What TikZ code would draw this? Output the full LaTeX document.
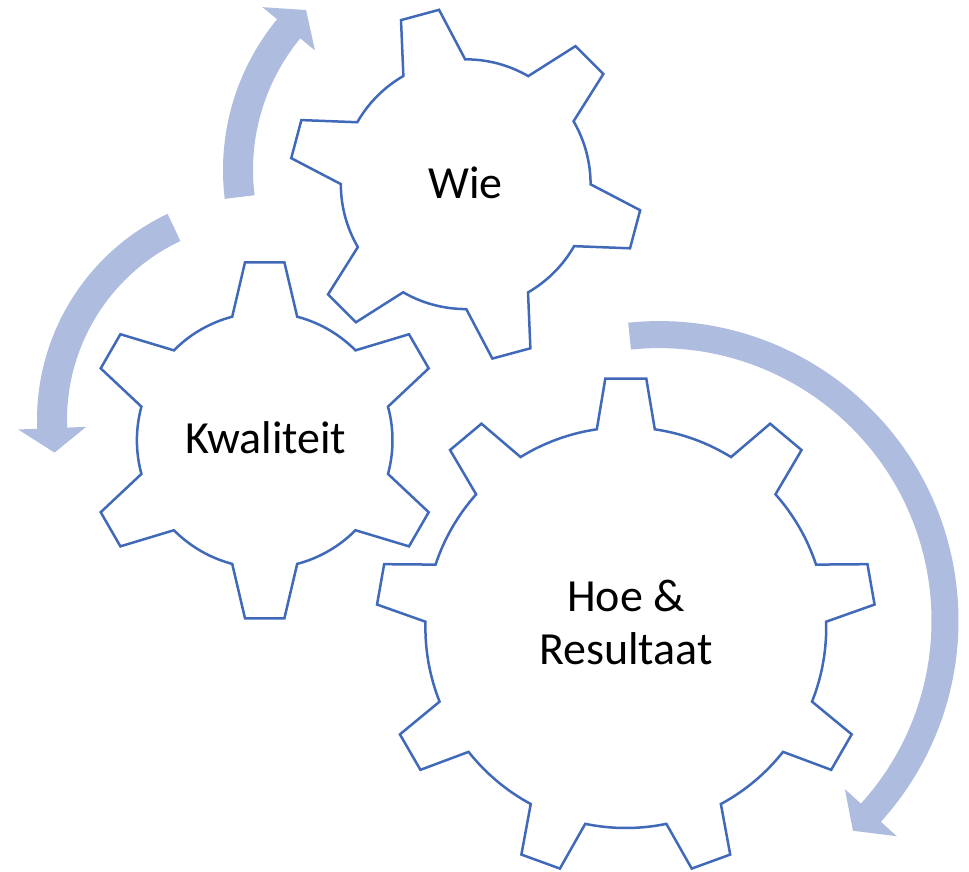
\documentclass[tikz,border=0pt]{standalone}
\usepackage{fontspec}
\setmainfont{Carlito}
\definecolor{gearline}{HTML}{4169B9}
\definecolor{arrowfill}{HTML}{AEBCDF}
\tikzset{
  gearshape/.style={draw=gearline, line width=2.5pt, fill=white, line join=miter},
  arrowshape/.style={fill=arrowfill, draw=none},
  geartext/.style={font=\fontsize{46}{53.3}\selectfont, text=black, align=center, inner sep=0pt},
}
% cx cy n rot Ro Rr wo wr
\newcommand\gearpath[8]{%
  \pgfmathsetmacro\gRb{100*veclen((#6)/100,(#8)/100)}%
  \pgfmathsetmacro\gdb{atan((#8)/(#6))}%
  \pgfmathsetmacro\gRt{100*veclen((#5)/100,(#7)/100)}%
  \pgfmathsetmacro\gdt{atan((#7)/(#5))}%
  \pgfmathsetmacro\gst{360/(#3)}%
  \pgfmathtruncatemacro\gnm{(#3)-1}%
  \filldraw[gearshape, shift={(#1,#2)}] ({#4-\gdb}:\gRb pt)
    \foreach \k in {0,...,\gnm} {
      -- ({#4+\k*\gst-\gdt}:\gRt pt) -- ({#4+\k*\gst+\gdt}:\gRt pt) -- ({#4+\k*\gst+\gdb}:\gRb pt)
      arc[start angle={#4+\k*\gst+\gdb}, end angle={#4+(\k+1)*\gst-\gdb}, radius=\gRb pt]
    } -- cycle;
}
% cx cy r h a0 a1 a2 s
\newcommand\circarrow[8]{%
  \fill[arrowshape, shift={(#1,#2)}] (#5:{#3pt+#4pt})
    arc[start angle=#5, end angle=#6, radius={#3pt+#4pt}]
    -- (#6:{#3pt+#8pt}) -- (#7:#3pt) -- (#6:{#3pt-#8pt}) -- (#6:{#3pt-#4pt})
    arc[start angle=#6, end angle=#5, radius={#3pt-#4pt}] -- cycle;
}
\begin{document}
\begin{tikzpicture}[x=1pt,y=1pt]
\useasboundingbox (0,0) rectangle (969,871);
% circular arrows
\circarrow{659}{250.4}{286}{13.5}{95.9}{-42.2}{-47.3}{35}
\circarrow{265}{451}{213}{15}{115.3}{182.2}{188.8}{34}
\circarrow{460}{701}{222}{15}{187}{140.5}{133.9}{34}
% gears
\gearpath{625.8}{243.4}{9}{90}{249}{198.3}{20.5}{29}
\gearpath{264.7}{430.7}{6}{90}{178}{123.6}{19.7}{32.5}
\gearpath{465.7}{686.8}{6}{105.1}{175.3}{120.7}{19.7}{32}
% labels
\node[geartext, anchor=base] (wie) at (465.5,672.7) {Wie};
\node[geartext, anchor=base] (kwaliteit) at (265.8,417) {Kwaliteit};
\node[geartext] (hoe) at (626,248.6) {Hoe \&\\Resultaat};
\end{tikzpicture}
\end{document}
